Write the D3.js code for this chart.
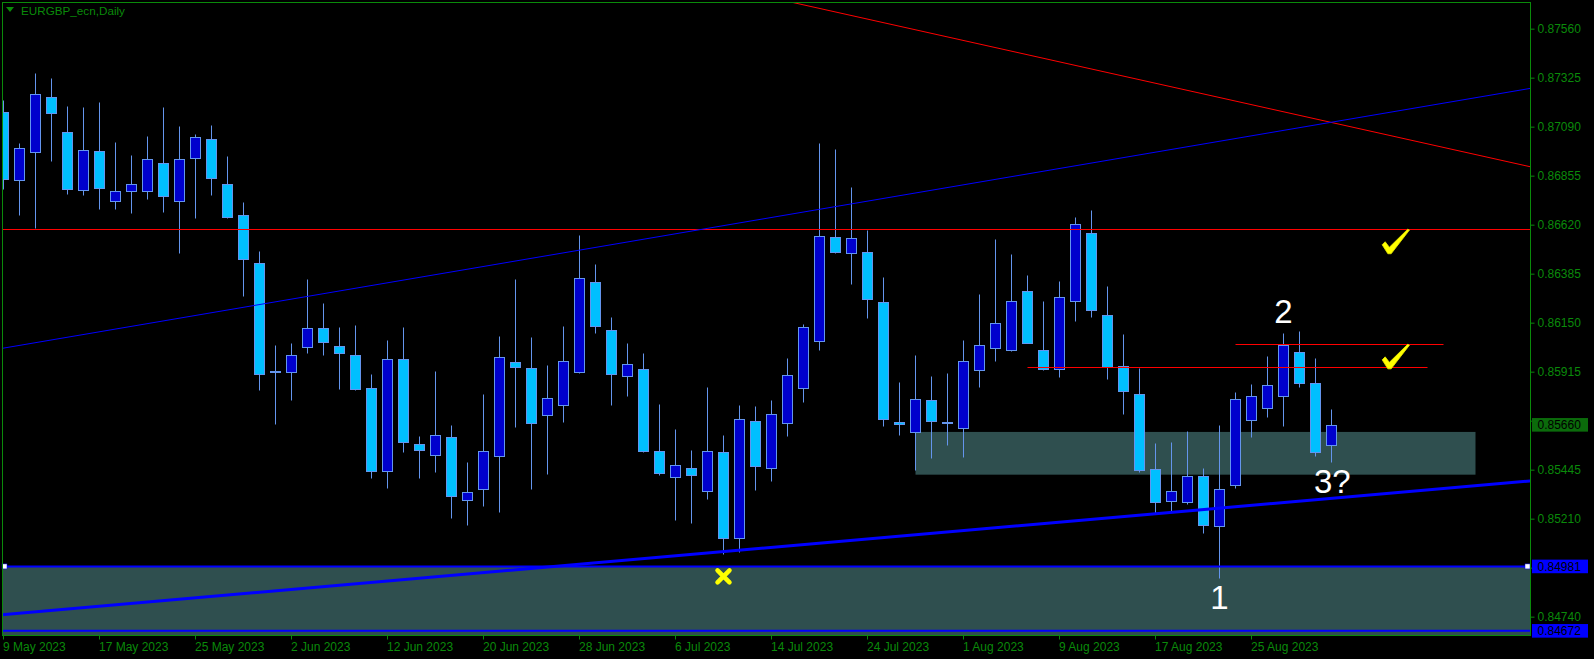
<!DOCTYPE html>
<html><head><meta charset="utf-8">
<script src="https://cdn.jsdelivr.net/npm/d3@7"></script>
<style>html,body{margin:0;padding:0;background:#000;overflow:hidden}svg{display:block}</style>
</head><body>
<svg id="chart" width="1594" height="659"></svg>
<script>
// ---------- DATA ----------
const symbolTitle = "EURGBP_ecn,Daily";
const opens = [
0.87159,0.86833,0.86967,0.87231,0.87063,0.86785,0.86972,0.86732,0.86780,0.86780,
0.86914,0.86732,0.86938,0.87029,0.86814,0.86666,0.86436,0.85918,0.85914,0.86032,
0.86123,0.86037,0.85993,0.85835,0.85437,0.85974,0.85567,0.85514,0.85600,0.85298,
0.85351,0.85509,0.85960,0.85931,0.85706,0.85754,0.85912,0.86344,0.86113,0.85893,
0.85926,0.85533,0.85408,0.85452,0.85341,0.85528,0.85116,0.85677,0.85452,0.85667,
0.85835,0.86061,0.86559,0.86483,0.86488,0.86248,0.85672,0.85624,0.85778,0.85672,
0.85643,0.85922,0.86027,0.86018,0.86300,0.86018,0.85929,0.86253,0.86579,0.86185,
0.85941,0.85806,0.85447,0.85293,0.85289,0.85413,0.85173,0.85370,0.85682,0.85739,
0.85797,0.86008,0.85859,0.85562];
const highs = [
0.87218,0.87012,0.87347,0.87323,0.87188,0.87184,0.87208,0.87015,0.86954,0.87044,
0.87184,0.87093,0.87055,0.87098,0.86948,0.86729,0.86494,0.86043,0.86051,0.86359,
0.86244,0.86129,0.86139,0.85904,0.86067,0.86129,0.85607,0.85918,0.85659,0.85482,
0.85808,0.86085,0.86359,0.86081,0.85946,0.86134,0.86571,0.86431,0.86176,0.86053,
0.86005,0.85760,0.85640,0.85539,0.85841,0.85611,0.85755,0.85750,0.85779,0.85981,
0.86144,0.87012,0.86983,0.86801,0.86596,0.86369,0.85864,0.85993,0.85893,0.85907,
0.86065,0.86286,0.86550,0.86478,0.86379,0.86254,0.86350,0.86657,0.86690,0.86326,
0.86096,0.85931,0.85571,0.85576,0.85630,0.85452,0.85658,0.85816,0.85854,0.85989,
0.86099,0.86109,0.85979,0.85735];
const lows = [
0.86793,0.86668,0.86605,0.86927,0.86769,0.86764,0.86697,0.86697,0.86677,0.86745,
0.86682,0.86486,0.86653,0.86762,0.86653,0.86278,0.85827,0.85664,0.85779,0.86006,
0.85996,0.85833,0.85829,0.85407,0.85359,0.85531,0.85407,0.85435,0.85215,0.85181,
0.85272,0.85243,0.85651,0.85354,0.85426,0.85675,0.85911,0.86102,0.85757,0.85800,
0.85531,0.85421,0.85205,0.85191,0.85306,0.85039,0.85049,0.85346,0.85389,0.85605,
0.85768,0.86020,0.86483,0.86337,0.86174,0.85653,0.85610,0.85442,0.85500,0.85562,
0.85504,0.85840,0.85965,0.86013,0.86054,0.85924,0.85891,0.86159,0.86179,0.85881,
0.85713,0.85435,0.85236,0.85248,0.85279,0.85140,0.84924,0.85356,0.85600,0.85696,
0.85653,0.85840,0.85509,0.85480];
const closes = [
0.86838,0.86986,0.87245,0.87154,0.86790,0.86977,0.86794,0.86780,0.86814,0.86934,
0.86756,0.86934,0.87039,0.86842,0.86655,0.86457,0.85905,0.85915,0.85993,0.86123,
0.86059,0.86006,0.85833,0.85437,0.85974,0.85576,0.85538,0.85610,0.85320,0.85337,
0.85533,0.85984,0.85936,0.85667,0.85787,0.85965,0.86363,0.86133,0.85902,0.85950,
0.85536,0.85428,0.85466,0.85418,0.85533,0.85116,0.85687,0.85461,0.85711,0.85898,
0.86128,0.86564,0.86488,0.86555,0.86262,0.85687,0.85663,0.85782,0.85677,0.85667,
0.85965,0.86041,0.86147,0.86253,0.86054,0.85929,0.86272,0.86622,0.86212,0.85939,
0.85824,0.85445,0.85291,0.85341,0.85413,0.85178,0.85351,0.85782,0.85797,0.85850,
0.86041,0.85859,0.85528,0.85660];

const priceTicks = [0.87560,0.87325,0.87090,0.86855,0.86620,0.86385,0.86150,0.85915,0.85680,0.85445,0.85210,0.84975,0.84740];
const dateTickIndex = [0,6,12,18,24,30,36,42,48,54,60,66,72,78];
const dateTickLabels = ["9 May 2023","17 May 2023","25 May 2023","2 Jun 2023","12 Jun 2023","20 Jun 2023","28 Jun 2023","6 Jul 2023","14 Jul 2023","24 Jul 2023","1 Aug 2023","9 Aug 2023","17 Aug 2023","25 Aug 2023"];

const currentPrice = 0.85660;
const blueLevels = [0.84981, 0.84672];
const redLevel = 0.86598;
// short horizontal segments: [startIndex, endIndex, price]
const redSegments = [[77, 90, 0.86046], [64, 89, 0.85936]];
// trend lines: [index1, price1, index2, price2]
const redTrend = [49.78, 0.87678, 95.41, 0.86898];
const blueThinTrend = [0, 0.86028, 95, 0.87268];
const blueThickTrend = [0, 0.84750, 95, 0.85388];
// zone rectangles: [index1, index2, priceTop, priceBottom]
const upperZone = [57, 92, 0.85626, 0.85421];
const lowerZone = [-2, 100, 0.84981, 0.84600];
// annotations: [index, price, text, anchor]
const waveLabels = [[76, 0.84777, "1", "middle"], [80, 0.86148, "2", "middle"], [81.9, 0.85335, "3?", "start"]];
const checkMarks = [[87.76, 0.86598], [87.76, 0.86046]];
const crossMark = [45, 0.84933];

// ---------- LAYOUT ----------
const plot = {l: 2, t: 2, r: 1530, b: 635};
const GREEN = "#0a8a0a";
const FONT = "'Liberation Sans', Arial, sans-serif";
const svg = d3.select("#chart");
svg.append("rect").attr("width",1594).attr("height",659).attr("fill","#000");

const x = d3.scaleLinear().domain([0, 95]).range([3.5, 3.5 + 16*95]);
const y = d3.scaleLinear().domain([0.87560, 0.84740]).range([28.67, 616.67]);
const n = closes.length;
const data = d3.range(n).map(i => ({i, o: opens[i], h: highs[i], l: lows[i], c: closes[i]}));

svg.append("clipPath").attr("id","clip").append("rect")
  .attr("x", plot.l).attr("y", plot.t).attr("width", plot.r-plot.l).attr("height", plot.b-plot.t);
const g = svg.append("g").attr("clip-path","url(#clip)");

// zones (background)
function zone(z){
  g.append("rect").attr("x", x(z[0])).attr("y", y(z[2]))
   .attr("width", x(z[1])-x(z[0])).attr("height", y(z[3])-y(z[2]))
   .attr("fill","#2F4F4F");
}
zone(upperZone); zone(lowerZone);

// candles
const py = v => Math.round(y(v)) + 0.5;
const cg = g.append("g");
data.forEach(d => {
  const cx = x(d.i);
  cg.append("line").attr("x1",cx).attr("x2",cx).attr("y1",py(d.h)).attr("y2",py(d.l))
    .attr("stroke","#6495ED").attr("stroke-width",1);
  const top = Math.round(y(Math.max(d.o,d.c))), bot = Math.round(y(Math.min(d.o,d.c)));
  const bull = d.c > d.o;
  if (bot - top < 1) {
    cg.append("line").attr("x1",cx-5).attr("x2",cx+5).attr("y1",top+0.5).attr("y2",top+0.5)
      .attr("stroke","#6495ED").attr("stroke-width",1);
  } else {
    cg.append("rect").attr("x",cx-5).attr("y",top+0.5).attr("width",10).attr("height",bot-top)
      .attr("fill", bull ? "#0000CD" : "#00BFFF").attr("stroke","#6495ED").attr("stroke-width",1);
  }
});

// horizontal & trend lines
function trend(t, color, w){
  const s = (t[3]-t[1])/(t[2]-t[0]);
  const a = -5, b = 110;
  g.append("line").attr("x1",x(a)).attr("y1",y(t[1]+s*(a-t[0])))
   .attr("x2",x(b)).attr("y2",y(t[1]+s*(b-t[0])))
   .attr("stroke",color).attr("stroke-width",w);
}
g.append("line").attr("x1",plot.l).attr("x2",plot.r).attr("y1",py(redLevel)).attr("y2",py(redLevel))
  .attr("stroke","#ff0000").attr("stroke-width",1);
redSegments.forEach(s => {
  g.append("line").attr("x1",x(s[0])).attr("x2",x(s[1])).attr("y1",py(s[2])).attr("y2",py(s[2]))
   .attr("stroke","#ff0000").attr("stroke-width",1);
});
trend(redTrend, "#ff0000", 1);
trend(blueThinTrend, "#0000ff", 1);
trend(blueThickTrend, "#0000ff", 3);
blueLevels.forEach(p => {
  g.append("line").attr("x1",plot.l).attr("x2",plot.r).attr("y1",y(p)).attr("y2",y(p))
   .attr("stroke","#0000ff").attr("stroke-width",2);
});
// selection anchors on first blue level
[plot.l+2.5, plot.r-2.5].forEach(px => {
  svg.append("rect").attr("x",px-2.5).attr("y",y(blueLevels[0])-2.5).attr("width",5).attr("height",5)
    .attr("fill","#fff").attr("stroke","#0000ff").attr("stroke-width",0.5);
});

// check marks
const checkPath = "M0,0 L1.8,0.8 L-16.5,24.5 L-19.8,24.5 L-25.5,15.5 L-22.5,12.5 L-18.3,18 Z";
checkMarks.forEach(c => {
  svg.append("path").attr("d", checkPath)
    .attr("transform", `translate(${x(c[0])},${y(c[1])})`)
    .attr("fill","#ffff00").attr("stroke","#e8e800").attr("stroke-width",0.8).attr("stroke-linejoin","round");
});
// cross mark
svg.append("path").attr("d","M-6,-6 L6,6 M6,-6 L-6,6")
  .attr("transform",`translate(${x(crossMark[0])},${y(crossMark[1])})`)
  .attr("stroke","#ffff00").attr("stroke-width",4.5).attr("stroke-linecap","round").attr("fill","none");

// wave labels
waveLabels.forEach(w => {
  svg.append("text").attr("x", x(w[0])).attr("y", y(w[1])).attr("text-anchor", w[3])
    .attr("font-family", FONT).attr("font-size", 33).attr("fill","#ffffff").text(w[2]);
});

// frame
svg.append("rect").attr("x",plot.l+0.5).attr("y",plot.t+0.5).attr("width",plot.r-plot.l).attr("height",plot.b-plot.t)
  .attr("fill","none").attr("stroke",GREEN).attr("stroke-width",1);

// price labels on the axis hide tick labels beneath them
const boxedPrices = [currentPrice, ...blueLevels];
const hidden = v => boxedPrices.some(p => Math.abs(y(p) - y(v)) < 12);

// y axis
const yAxis = svg.append("g").attr("transform",`translate(${plot.r+0.5},0)`)
  .call(d3.axisRight(y).tickValues(priceTicks)
    .tickFormat(v => hidden(v) ? "" : d3.format(".5f")(v)).tickSize(4).tickPadding(3));
yAxis.select(".domain").remove();
yAxis.selectAll("line").attr("stroke",GREEN);
yAxis.selectAll("text").attr("fill",GREEN).attr("font-family",FONT).attr("font-size",12).attr("x",7);

// x axis
const xAxis = svg.append("g").attr("transform",`translate(0,${plot.b+0.5})`)
  .call(d3.axisBottom(x).tickValues(dateTickIndex).tickFormat((d,i) => dateTickLabels[i]).tickSize(4));
xAxis.select(".domain").remove();
xAxis.selectAll("line").attr("stroke",GREEN).attr("transform","translate(-0.5,0)");
xAxis.selectAll("text").attr("fill",GREEN).attr("font-family",FONT).attr("font-size",12)
  .attr("text-anchor","start").attr("x",-1).attr("y",15).attr("dy",null);

// price labels
function priceLabel(p, bg){
  const yy = y(p);
  svg.append("rect").attr("x",plot.r+2).attr("y",yy-6.8).attr("width",56).attr("height",13.6).attr("fill",bg);
  svg.append("text").attr("x",plot.r+7.5).attr("y",yy+4.3).attr("font-family",FONT).attr("font-size",12)
    .attr("fill","#000").text(d3.format(".5f")(p));
}
priceLabel(currentPrice, "#0b6b0b");
blueLevels.forEach(p => priceLabel(p, "#0000ff"));

// title
svg.append("path").attr("d","M6,7 L14,7 L10,12 Z").attr("fill",GREEN);
svg.append("text").attr("x",21).attr("y",14.5).attr("font-family",FONT).attr("font-size",11.7)
  .attr("fill",GREEN).text(symbolTitle);
</script>
</body></html>
